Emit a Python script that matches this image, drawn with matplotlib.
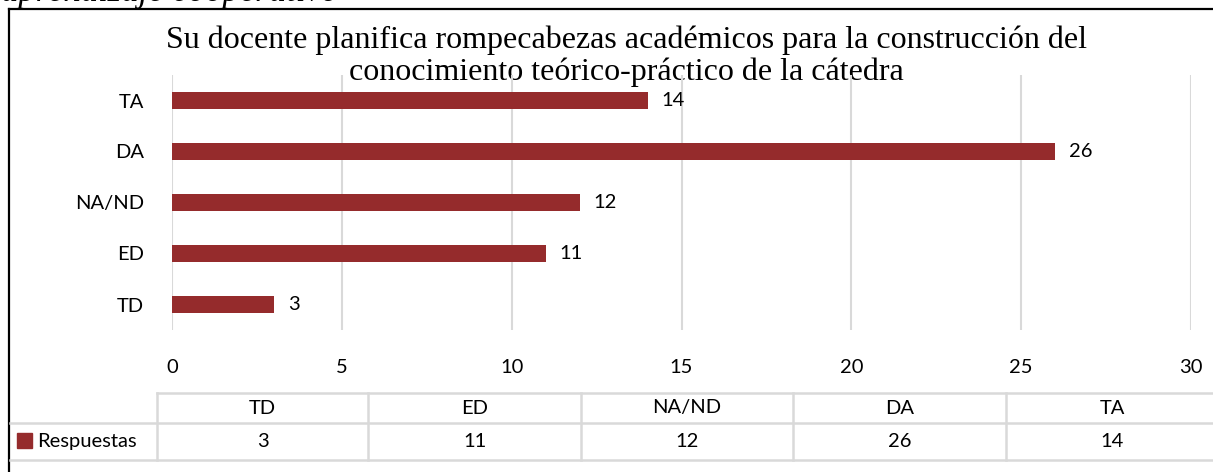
import matplotlib.pyplot as plt
from matplotlib.lines import Line2D
from matplotlib.patches import Rectangle

categories = ["TD", "ED", "NA/ND", "DA", "TA"]
respuestas = [3, 11, 12, 26, 14]
series_name = "Respuestas"
title = ("Su docente planifica rompecabezas académicos para la construcción del\n"
         "conocimiento teórico-práctico de la cátedra")
top_caption = "aprendizaje cooperativo"
xticks = [0, 5, 10, 15, 20, 25, 30]

W, H = 1213, 472
bar_color = "#952B2C"
grid_color = "#D9D9D9"
sans = ["Lato", "DejaVu Sans"]
serif = ["Liberation Serif", "DejaVu Serif"]
fs = 14.5

fig = plt.figure(figsize=(W / 100, H / 100), dpi=100)

# main bar axes
ax = fig.add_axes([172 / W, 1 - 330 / H, (1191 - 172) / W, (330 - 75) / H])
ax.set_facecolor("none")
ypos = range(len(categories))
ax.barh(ypos, respuestas, height=0.34, color=bar_color, zorder=3)
ax.set_xlim(0, 30)
ax.set_ylim(-0.5, len(categories) - 0.5)
ax.set_yticks(list(ypos))
ax.set_yticklabels(categories, fontsize=fs, family=sans)
ax.set_xticks(xticks)
ax.set_xticklabels([str(t) for t in xticks], fontsize=fs, family=sans)
ax.tick_params(axis="both", length=0)
ax.tick_params(axis="y", pad=20)
ax.tick_params(axis="x", pad=21)
ax.grid(axis="x", color=grid_color, lw=1.5, zorder=0)
for s in ax.spines.values():
    s.set_visible(False)
for y, v in zip(ypos, respuestas):
    ax.annotate(str(v), (v, y), xytext=(10, 0), textcoords="offset points",
                va="center", ha="left", fontsize=fs, family=sans)

# overlay axes in pixel coordinates for frame, titles + data table
over = fig.add_axes([0, 0, 1, 1], zorder=-1)
over.set_xlim(0, W)
over.set_ylim(H, 0)
over.axis("off")

# title
over.text(626, 56, title, ha="center", va="center", fontsize=23,
          family=serif, linespacing=1.13)

# clipped caption at top of page
over.text(1, 1, top_caption, ha="left", va="baseline", fontsize=25,
          family=serif, style="italic")

# outer frame (top and left)
over.add_line(Line2D([9, W], [9, 9], color="black", lw=1.6))
over.add_line(Line2D([9, 9], [9, H], color="black", lw=1.6))

# data table
col_edges = [157, 368, 581, 793, 1006, 1218]
y_top, y_mid, y_bot = 393, 423, 460
over.add_line(Line2D([157, W], [y_top, y_top], color=grid_color, lw=1.8))
over.add_line(Line2D([10, W], [y_mid, y_mid], color=grid_color, lw=1.8))
over.add_line(Line2D([10, W], [y_bot, y_bot], color=grid_color, lw=1.8))
for x in col_edges[:-1]:
    over.add_line(Line2D([x, x], [y_top, y_bot], color=grid_color, lw=1.8))
for i, (c, v) in enumerate(zip(categories, respuestas)):
    cx = (col_edges[i] + col_edges[i + 1]) / 2
    over.text(cx, (y_top + y_mid) / 2, c, ha="center", va="center",
              fontsize=fs, family=sans)
    over.text(cx, (y_mid + y_bot) / 2, str(v), ha="center", va="center",
              fontsize=fs, family=sans)
over.add_patch(Rectangle((17, 433), 15, 15, color=bar_color))
over.text(37, (y_mid + y_bot) / 2, series_name, ha="left", va="center",
          fontsize=fs, family=sans)

fig.savefig("out.png", dpi=100)
